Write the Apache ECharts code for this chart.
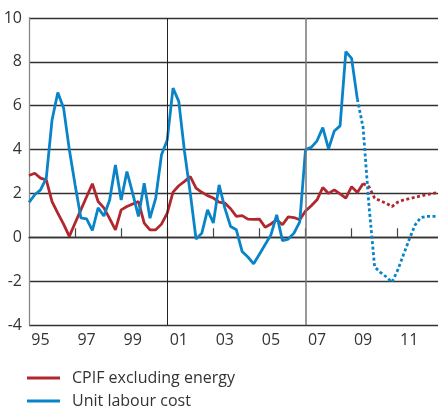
<!DOCTYPE html>
<html>
<head>
    <meta charset="utf-8">
    <title>CPIF and unit labour cost</title>
    <style>
        html, body { margin: 0; padding: 0; background: #fff; }
        #chart { width: 438px; height: 408px; }
    </style>
</head>
<body>
    <div id="chart"></div>
    <script src="https://cdn.jsdelivr.net/npm/echarts@6/dist/echarts.min.js"></script>
    <script>
        // quarterly data, first quarter = 1995 Q1
        var startYear = 1995;

        // CPIF excluding energy, outcome (1995 Q1 - 2009 Q3)
        var cpif = [2.82, 2.92, 2.7, 2.62, 1.63, 1.1, 0.6, 0.04, 0.65, 1.25, 1.85, 2.44,
                    1.63, 1.34, 0.85, 0.34, 1.25, 1.4, 1.52, 1.63, 0.65, 0.34, 0.34, 0.6,
                    1.1, 2.06, 2.35, 2.55, 2.77, 2.24, 2.05, 1.9, 1.79, 1.6, 1.56, 1.3,
                    0.95, 0.99, 0.83, 0.82, 0.83, 0.46, 0.61, 0.8, 0.57, 0.93, 0.9, 0.8,
                    1.2, 1.44, 1.71, 2.27, 2.0, 2.16, 1.98, 1.79, 2.31, 2.04, 2.45];
        // CPIF excluding energy, forecast (2009 Q3 - 2012 Q4)
        var cpifForecast = [2.45, 2.31, 1.79, 1.66, 1.55, 1.4, 1.6, 1.7, 1.76, 1.83, 1.88, 1.94, 1.99, 2.04];

        // unit labour cost, outcome (1995 Q1 - 2009 Q2)
        var ulc = [1.59, 1.94, 2.16, 2.7, 5.35, 6.6, 5.9, 4.0, 2.4, 0.89, 0.84, 0.31,
                   1.34, 0.97, 1.7, 3.3, 1.7, 3.0, 2.0, 0.95, 2.47, 0.87, 1.79, 3.76,
                   4.44, 6.8, 6.2, 3.9, 2.0, -0.08, 0.19, 1.25, 0.65, 2.39, 1.33, 0.49,
                   0.34, -0.65, -0.9, -1.21, -0.77, -0.33, 0.11, 1.02, -0.15, -0.08, 0.19, 0.7,
                   4.0, 4.1, 4.4, 5.0, 4.03, 4.85, 5.08, 8.47, 8.16, 6.3];
        // unit labour cost, forecast (2009 Q2 - 2012 Q4)
        var ulcForecast = [6.3, 5.0, 1.5, -1.35, -1.6, -1.8, -2.05, -1.5, -0.8, -0.1, 0.55, 0.9, 0.95, 0.95, 0.95];

        var tickYears = [1997, 1999, 2001, 2003, 2005, 2007, 2009, 2011];
        var labelYears = [1995, 1997, 1999, 2001, 2003, 2005, 2007, 2009, 2011];
        var markYears = [2001, 2007];
        var seriesNames = ['CPIF excluding energy', 'Unit labour cost'];

        function toPoints(values, firstQuarter) {
            return values.map(function (v, i) {
                return [startYear + (firstQuarter + i) / 4, v];
            });
        }

        var font = '"Open Sans", "Noto Sans", sans-serif';
        var red = '#b0282e';
        var blue = '#0a84c8';
        var dots = [3, 2.5];

        function legendFor(name, top) {
            return {
                data: [name],
                left: 27,
                top: top,
                padding: 0,
                icon: 'rect',
                itemWidth: 33,
                itemHeight: 3,
                textStyle: { fontFamily: font, fontSize: 16, color: '#333', lineHeight: 18, padding: [0, 0, 0, 7] }
            };
        }

        var myChart = echarts.init(document.getElementById('chart'), null, { renderer: 'canvas' });
        var option = {
            animation: false,
            grid: { left: 29, right: 0, top: 18, bottom: 83 },
            legend: [legendFor(seriesNames[0], 369), legendFor(seriesNames[1], 392)],
            xAxis: {
                type: 'value',
                min: 1995,
                max: 2012.75,
                axisLine: { show: true, lineStyle: { color: '#333', width: 1.3 } },
                axisTick: {
                    show: true,
                    inside: true,
                    length: 9,
                    customValues: tickYears,
                    lineStyle: { color: '#444', width: 1.2 }
                },
                axisLabel: {
                    customValues: labelYears.map(function (y) { return y + 0.5; }),
                    formatter: function (v) { return String(Math.floor(v)).slice(2); },
                    fontFamily: font,
                    fontSize: 16,
                    color: '#333',
                    margin: 7
                },
                splitLine: { show: false }
            },
            yAxis: {
                type: 'value',
                min: -4,
                max: 10,
                interval: 2,
                axisLine: { show: true, lineStyle: { color: '#888', width: 1.3 } },
                axisTick: { show: false },
                axisLabel: { fontFamily: font, fontSize: 16, color: '#333', margin: 7 },
                splitLine: { lineStyle: { color: '#333', width: 1.3 } }
            },
            series: [
                {
                    name: seriesNames[0],
                    type: 'line',
                    color: red,
                    showSymbol: false,
                    lineStyle: { width: 2.8, color: red },
                    data: toPoints(cpif, 0),
                    markLine: {
                        silent: true,
                        symbol: 'none',
                        label: { show: false },
                        data: [
                            { xAxis: markYears[0], lineStyle: { color: '#222', width: 1, type: 'solid' } },
                            { xAxis: markYears[1], lineStyle: { color: '#777', width: 1.5, type: 'solid' } }
                        ]
                    },
                    z: 3
                },
                {
                    name: seriesNames[0],
                    type: 'line',
                    color: red,
                    showSymbol: false,
                    lineStyle: { width: 2.8, color: red, type: dots },
                    data: toPoints(cpifForecast, cpif.length - 1),
                    z: 3
                },
                {
                    name: seriesNames[1],
                    type: 'line',
                    color: blue,
                    showSymbol: false,
                    lineStyle: { width: 2.8, color: blue },
                    data: toPoints(ulc, 0),
                    z: 4
                },
                {
                    name: seriesNames[1],
                    type: 'line',
                    color: blue,
                    showSymbol: false,
                    lineStyle: { width: 2.8, color: blue, type: dots },
                    data: toPoints(ulcForecast, ulc.length - 1),
                    z: 4
                }
            ]
        };
        myChart.setOption(option);
    </script>
</body>
</html>
